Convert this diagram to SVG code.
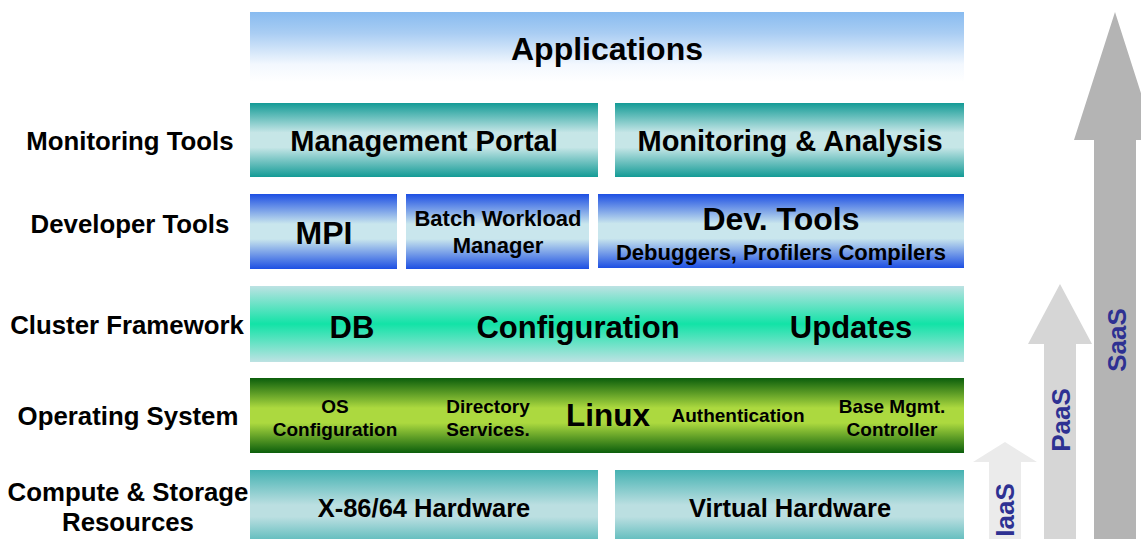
<svg xmlns="http://www.w3.org/2000/svg" width="1141" height="539" viewBox="0 0 1141 539">
<defs>
<linearGradient id="gApp" x1="0" y1="0" x2="0" y2="1">
<stop offset="0" stop-color="#88bbf0"/>
<stop offset="0.3" stop-color="#a9cdf3"/>
<stop offset="0.75" stop-color="#f3f8fe"/>
<stop offset="1" stop-color="#ffffff"/>
</linearGradient>
<linearGradient id="gTeal" x1="0" y1="0" x2="0" y2="1">
<stop offset="0" stop-color="#139b96"/>
<stop offset="0.4" stop-color="#c6e6e7"/>
<stop offset="0.6" stop-color="#c6e6e7"/>
<stop offset="1" stop-color="#139b96"/>
</linearGradient>
<linearGradient id="gBlue" x1="0" y1="0" x2="0" y2="1">
<stop offset="0" stop-color="#1d4fe3"/>
<stop offset="0.4" stop-color="#c9e6ed"/>
<stop offset="0.6" stop-color="#c9e6ed"/>
<stop offset="1" stop-color="#1d4fe3"/>
</linearGradient>
<linearGradient id="gCluster" x1="0" y1="0" x2="0" y2="1">
<stop offset="0" stop-color="#bde2e3"/>
<stop offset="0.5" stop-color="#12e3a7"/>
<stop offset="1" stop-color="#bde2e3"/>
</linearGradient>
<linearGradient id="gOS" x1="0" y1="0" x2="0" y2="1">
<stop offset="0" stop-color="#0b5e0c"/>
<stop offset="0.4" stop-color="#acd93f"/>
<stop offset="0.6" stop-color="#acd93f"/>
<stop offset="1" stop-color="#0b5e0c"/>
</linearGradient>
<linearGradient id="gHW" x1="0" y1="0" x2="0" y2="1">
<stop offset="0" stop-color="#45b2b2"/>
<stop offset="0.45" stop-color="#bbdfe1"/>
<stop offset="0.6" stop-color="#bbdfe1"/>
<stop offset="1" stop-color="#45b2b2"/>
</linearGradient>
</defs>
<style>
text{font-family:"Liberation Sans",Arial,sans-serif;font-weight:bold;fill:#000;text-anchor:middle}
.side{font-size:25.8px}
.big{font-size:32px}
.mid{font-size:29px}
.sm{font-size:22px}
.xs{font-size:19px}
.hw{font-size:25.5px}
.aas{font-size:26px;fill:#2e3192}
</style>
<g id="side-labels">
<text class="side" x="130" y="150">Monitoring Tools</text>
<text class="side" x="130" y="233">Developer Tools</text>
<text class="side" x="127" y="334">Cluster Framework</text>
<text class="side" x="128" y="425">Operating System</text>
<text class="side" x="128" y="501">Compute &amp; Storage</text>
<text class="side" x="128" y="531">Resources</text>
</g>
<g id="applications">
<rect x="250" y="12" width="714" height="70" fill="url(#gApp)"/>
<text class="big" x="607" y="60">Applications</text>
</g>
<g id="management-portal">
<rect x="250" y="103" width="348" height="74" fill="url(#gTeal)"/>
<text class="mid" x="424" y="151">Management Portal</text>
</g>
<g id="monitoring-analysis">
<rect x="615" y="103" width="349" height="74" fill="url(#gTeal)"/>
<text class="mid" x="790" y="151">Monitoring &amp; Analysis</text>
</g>
<g id="mpi">
<rect x="250" y="194" width="147" height="75" fill="url(#gBlue)"/>
<text class="big" x="324" y="244">MPI</text>
</g>
<g id="batch">
<rect x="406" y="194" width="183" height="75" fill="url(#gBlue)"/>
<text class="sm" x="498" y="226">Batch Workload</text>
<text class="sm" x="498" y="253">Manager</text>
</g>
<g id="devtools">
<rect x="598" y="194" width="366" height="74" fill="url(#gBlue)"/>
<text class="big" x="781" y="230">Dev. Tools</text>
<text class="sm" x="781" y="260">Debuggers, Profilers Compilers</text>
</g>
<g id="cluster">
<rect x="250" y="286" width="714" height="76" fill="url(#gCluster)"/>
<text class="big" x="352" y="338" style="font-size:31px">DB</text>
<text class="big" x="578" y="338" style="font-size:31px">Configuration</text>
<text class="big" x="851" y="338" style="font-size:31px">Updates</text>
</g>
<g id="os">
<rect x="250" y="378" width="714" height="75" fill="url(#gOS)"/>
<text class="xs" x="335" y="413">OS</text>
<text class="xs" x="335" y="436">Configuration</text>
<text class="xs" x="488" y="413">Directory</text>
<text class="xs" x="488" y="436">Services.</text>
<text class="big" x="608" y="426" style="font-size:31.5px">Linux</text>
<text class="xs" x="738" y="422">Authentication</text>
<text class="xs" x="892" y="413">Base Mgmt.</text>
<text class="xs" x="892" y="436">Controller</text>
</g>
<g id="x86">
<rect x="250" y="470" width="348" height="78" fill="url(#gHW)"/>
<text class="hw" x="424" y="517">X-86/64 Hardware</text>
</g>
<g id="virtual">
<rect x="615" y="470" width="349" height="78" fill="url(#gHW)"/>
<text class="hw" x="790" y="517">Virtual Hardware</text>
</g>
<g id="connectors">
<polygon points="1005,442 1037,462 1021,462 1021,545 989,545 989,462 973,462" fill="#ebebeb"/>
<polygon points="1060,284 1092,344 1076,344 1076,545 1044,545 1044,344 1028,344" fill="#d6d6d6"/>
<polygon points="1115,12 1156,140 1136,140 1136,545 1094,545 1094,140 1074,140" fill="#b4b4b4"/>
</g>
<g id="aas-labels">
<text class="aas" transform="translate(1014,510) rotate(-90)">IaaS</text>
<text class="aas" transform="translate(1070,420) rotate(-90)">PaaS</text>
<text class="aas" transform="translate(1126,340) rotate(-90)">SaaS</text>
</g>
</svg>
